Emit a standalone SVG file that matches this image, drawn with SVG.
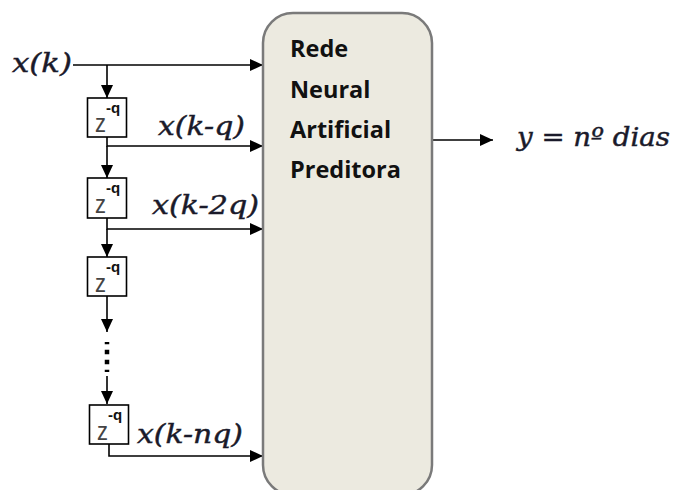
<svg xmlns="http://www.w3.org/2000/svg" width="675" height="490" viewBox="0 0 675 490">
  <defs>
    <marker id="arr" markerUnits="userSpaceOnUse" markerWidth="14" markerHeight="14" viewBox="0 0 14 14" refX="13" refY="7" orient="auto">
      <path d="M0,1 L13,7 L0,13 Z" fill="#000"/>
    </marker>
    <style>
      .ln{fill:none;stroke:#000;stroke-width:1.6}
      .dl{fill:#fff;stroke:#000;stroke-width:1.6}
      .z{font-family:"Liberation Sans","DejaVu Sans",sans-serif;font-size:26px;fill:#444}
      .q{font-family:"Liberation Sans","DejaVu Sans",sans-serif;font-size:15px;font-weight:700;fill:#111}
      .it{font-family:"DejaVu Serif","Liberation Serif",serif;font-style:italic;font-size:26px;fill:#1a1a2a;stroke:#1a1a2a;stroke-width:0.45}
      .bt{font-family:"Open Sans","DejaVu Sans",sans-serif;font-weight:700;font-size:23.5px;fill:#111}
    </style>
  </defs>
  <rect width="675" height="490" fill="#fff"/>

  <g id="connectors">
    <path class="ln" d="M73,65 H263" marker-end="url(#arr)"/>
    <path class="ln" d="M107,65 V98" marker-end="url(#arr)"/>
    <path class="ln" d="M107,137 V146 H263" marker-end="url(#arr)"/>
    <path class="ln" d="M107,146 V178" marker-end="url(#arr)"/>
    <path class="ln" d="M107,218 V229 H263" marker-end="url(#arr)"/>
    <path class="ln" d="M107,229 V257" marker-end="url(#arr)"/>
    <path class="ln" d="M107,296 V332" marker-end="url(#arr)"/>
    <path d="M107,342 V372" fill="none" stroke="#000" stroke-width="4.5" stroke-dasharray="4.5 5.5" stroke-dashoffset="2.25"/>
    <path class="ln" d="M107,376 V404" marker-end="url(#arr)"/>
    <path class="ln" d="M109,444 V456 H263" marker-end="url(#arr)"/>
    <path class="ln" d="M432,140 H493" marker-end="url(#arr)"/>
  </g>

  <g id="input-xk">
    <text class="it" x="12" y="72" textLength="60" lengthAdjust="spacingAndGlyphs">x(k)</text>
  </g>

  <g id="delay1">
    <rect class="dl" x="87.5" y="98" width="39" height="39"/>
    <text class="z" x="95" y="132" textLength="11" lengthAdjust="spacingAndGlyphs">z</text>
    <text class="q" x="106" y="113">-q</text>
  </g>
  <g id="label-xkq">
    <text class="it" x="158" y="135" textLength="87" lengthAdjust="spacingAndGlyphs">x(k-q)</text>
  </g>

  <g id="delay2">
    <rect class="dl" x="87.5" y="178" width="39" height="40"/>
    <text class="z" x="95" y="213" textLength="11" lengthAdjust="spacingAndGlyphs">z</text>
    <text class="q" x="106" y="193">-q</text>
  </g>
  <g id="label-xk2q">
    <text class="it" x="152" y="214" textLength="107" lengthAdjust="spacingAndGlyphs">x(k-2q)</text>
  </g>

  <g id="delay3">
    <rect class="dl" x="87.5" y="257" width="39" height="39"/>
    <text class="z" x="95" y="292" textLength="11" lengthAdjust="spacingAndGlyphs">z</text>
    <text class="q" x="106" y="272">-q</text>
  </g>

  <g id="delay4">
    <rect class="dl" x="89.5" y="405" width="39" height="39"/>
    <text class="z" x="97" y="440" textLength="11" lengthAdjust="spacingAndGlyphs">z</text>
    <text class="q" x="108" y="420">-q</text>
  </g>
  <g id="label-xknq">
    <text class="it" x="137" y="443" textLength="106" lengthAdjust="spacingAndGlyphs">x(k-nq)</text>
  </g>

  <g id="rna">
    <rect x="263" y="13" width="169" height="482" rx="30" ry="30" fill="#ECEAE0" stroke="#7a7a7a" stroke-width="2.5"/>
    <text class="bt" x="290" y="57">Rede</text>
    <text class="bt" x="290" y="98">Neural</text>
    <text class="bt" x="290" y="138">Artificial</text>
    <text class="bt" x="290" y="178">Preditora</text>
  </g>

  <g id="output">
    <text class="it" x="517" y="146" textLength="153" lengthAdjust="spacingAndGlyphs">y = nº dias</text>
  </g>
</svg>
